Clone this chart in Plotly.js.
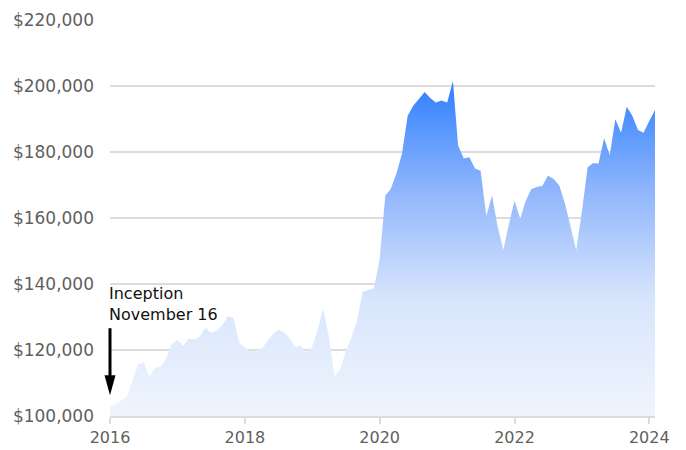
<!DOCTYPE html>
<html>
<head>
<meta charset="utf-8">
<script src="https://cdn.plot.ly/plotly-3.0.1.min.js"></script>
<style>
  html, body { margin: 0; padding: 0; background: #fff; }
  #chart { width: 686px; height: 450px; }
</style>
</head>
<body>
<div id="chart"></div>
<script>
// Monthly values (thousands of dollars), Jan 2016 - Feb 2024
const startYear = 2016;
const values = [
  102.8, 103.6, 104.6, 105.8, 110.5, 115.5, 116.3, 112.0, 114.5, 115.0, 117.5, 122.0,
  123.0, 121.2, 123.4, 123.2, 124.0, 126.8, 125.2, 125.8, 127.5, 130.3, 129.6, 122.2,
  120.8, 119.5, 120.0, 120.2, 122.5, 124.8, 126.2, 125.4, 123.4, 121.0, 121.3, 119.3,
  121.0, 126.5, 132.4, 124.0, 112.0, 114.2, 119.5, 123.8, 129.0, 137.6, 138.2, 138.7,
  147.5, 166.8, 168.8, 173.5, 179.5, 191.0, 194.0, 196.0, 198.2, 196.4, 195.0, 195.6,
  195.0, 201.5, 182.0, 178.0, 178.4, 175.0, 174.3, 160.6, 166.8, 157.5, 150.3, 158.0,
  165.2, 159.8, 165.0, 168.7, 169.4, 169.8, 172.8, 171.8, 169.8, 164.4, 157.0, 150.3,
  162.0, 175.4, 176.6, 176.5, 184.2, 179.0, 189.9, 185.8, 193.7, 191.0, 186.7, 185.8,
  189.4, 192.7
];
const dates = values.map((v, i) => {
  const y = startYear + Math.floor(i / 12);
  const m = (i % 12) + 1;
  return y + '-' + String(m).padStart(2, '0') + '-01';
});
const dollars = values.map(v => v * 1000);

const yMin = 100000, yMax = 220000;
const yTickVals = [100000, 120000, 140000, 160000, 180000, 200000, 220000];
const yTickText = ['$100,000', '$120,000', '$140,000', '$160,000', '$180,000', '$200,000', '$220,000'];
const xTickVals = ['2016-01-01', '2018-01-01', '2020-01-01', '2022-01-01', '2024-01-01'];
const xTickText = ['2016', '2018', '2020', '2022', '2024'];

const inceptionDate = '2016-01-01';
const arrowTipValue = 106300;
const labelValue = 134000;
const tipPaperY = (arrowTipValue - yMin) / (yMax - yMin);

const trace = {
  x: dates,
  y: dollars,
  type: 'scatter',
  mode: 'lines',
  line: { width: 0, color: 'rgba(50,128,255,0)' },
  fill: 'tozeroy',
  fillgradient: {
    type: 'vertical',
    start: 100000,
    stop: 201000,
    colorscale: [
      [0, 'rgb(239,245,253)'],
      [0.35, 'rgb(216,229,252)'],
      [0.65, 'rgb(150,186,252)'],
      [1, 'rgb(48,127,255)']
    ]
  },
  hoverinfo: 'skip'
};

const layout = {
  width: 686,
  height: 450,
  margin: { l: 110, r: 31, t: 20, b: 34 },
  paper_bgcolor: '#ffffff',
  plot_bgcolor: '#ffffff',
  showlegend: false,
  font: { family: 'DejaVu Sans', size: 16, color: '#5f5f5f' },
  xaxis: {
    type: 'date',
    range: [dates[0], dates[dates.length - 1]],
    tickvals: xTickVals,
    ticktext: xTickText,
    showgrid: false,
    zeroline: false,
    showline: true,
    linecolor: '#dcdcdc',
    linewidth: 2,
    ticks: 'outside',
    ticklen: 6,
    tickwidth: 2,
    tickcolor: '#dcdcdc',
    tickfont: { family: 'DejaVu Sans', size: 16, color: '#5f5f5f' },
    fixedrange: true
  },
  yaxis: {
    range: [yMin, yMax],
    tickvals: yTickVals,
    ticktext: yTickText,
    showgrid: true,
    gridcolor: '#dcdcdc',
    gridwidth: 2,
    zeroline: false,
    showline: false,
    ticks: '',
    ticklabelstandoff: 15,
    tickfont: { family: 'DejaVu Sans', size: 17, color: '#5f5f5f' },
    fixedrange: true
  },
  annotations: [
    {
      x: inceptionDate, xref: 'x', xanchor: 'left', xshift: -3,
      y: labelValue, yref: 'y', yanchor: 'middle',
      text: 'Inception<br>November 16',
      align: 'left',
      showarrow: false,
      font: { family: 'DejaVu Sans', size: 16, color: '#111111' }
    }
  ],
  shapes: [
    {
      type: 'line', xref: 'paper', yref: 'paper',
      xsizemode: 'pixel', ysizemode: 'pixel',
      xanchor: 0, yanchor: tipPaperY,
      x0: 0, x1: 0, y0: 16, y1: 67,
      line: { color: '#000000', width: 3 }
    },
    {
      type: 'path', xref: 'paper', yref: 'paper',
      xsizemode: 'pixel', ysizemode: 'pixel',
      xanchor: 0, yanchor: tipPaperY,
      path: 'M-5.5,20 L5.5,20 L0,0 Z',
      fillcolor: '#000000',
      line: { width: 0 }
    }
  ]
};

Plotly.newPlot('chart', [trace], layout, { displayModeBar: false, staticPlot: true });
</script>
</body>
</html>
